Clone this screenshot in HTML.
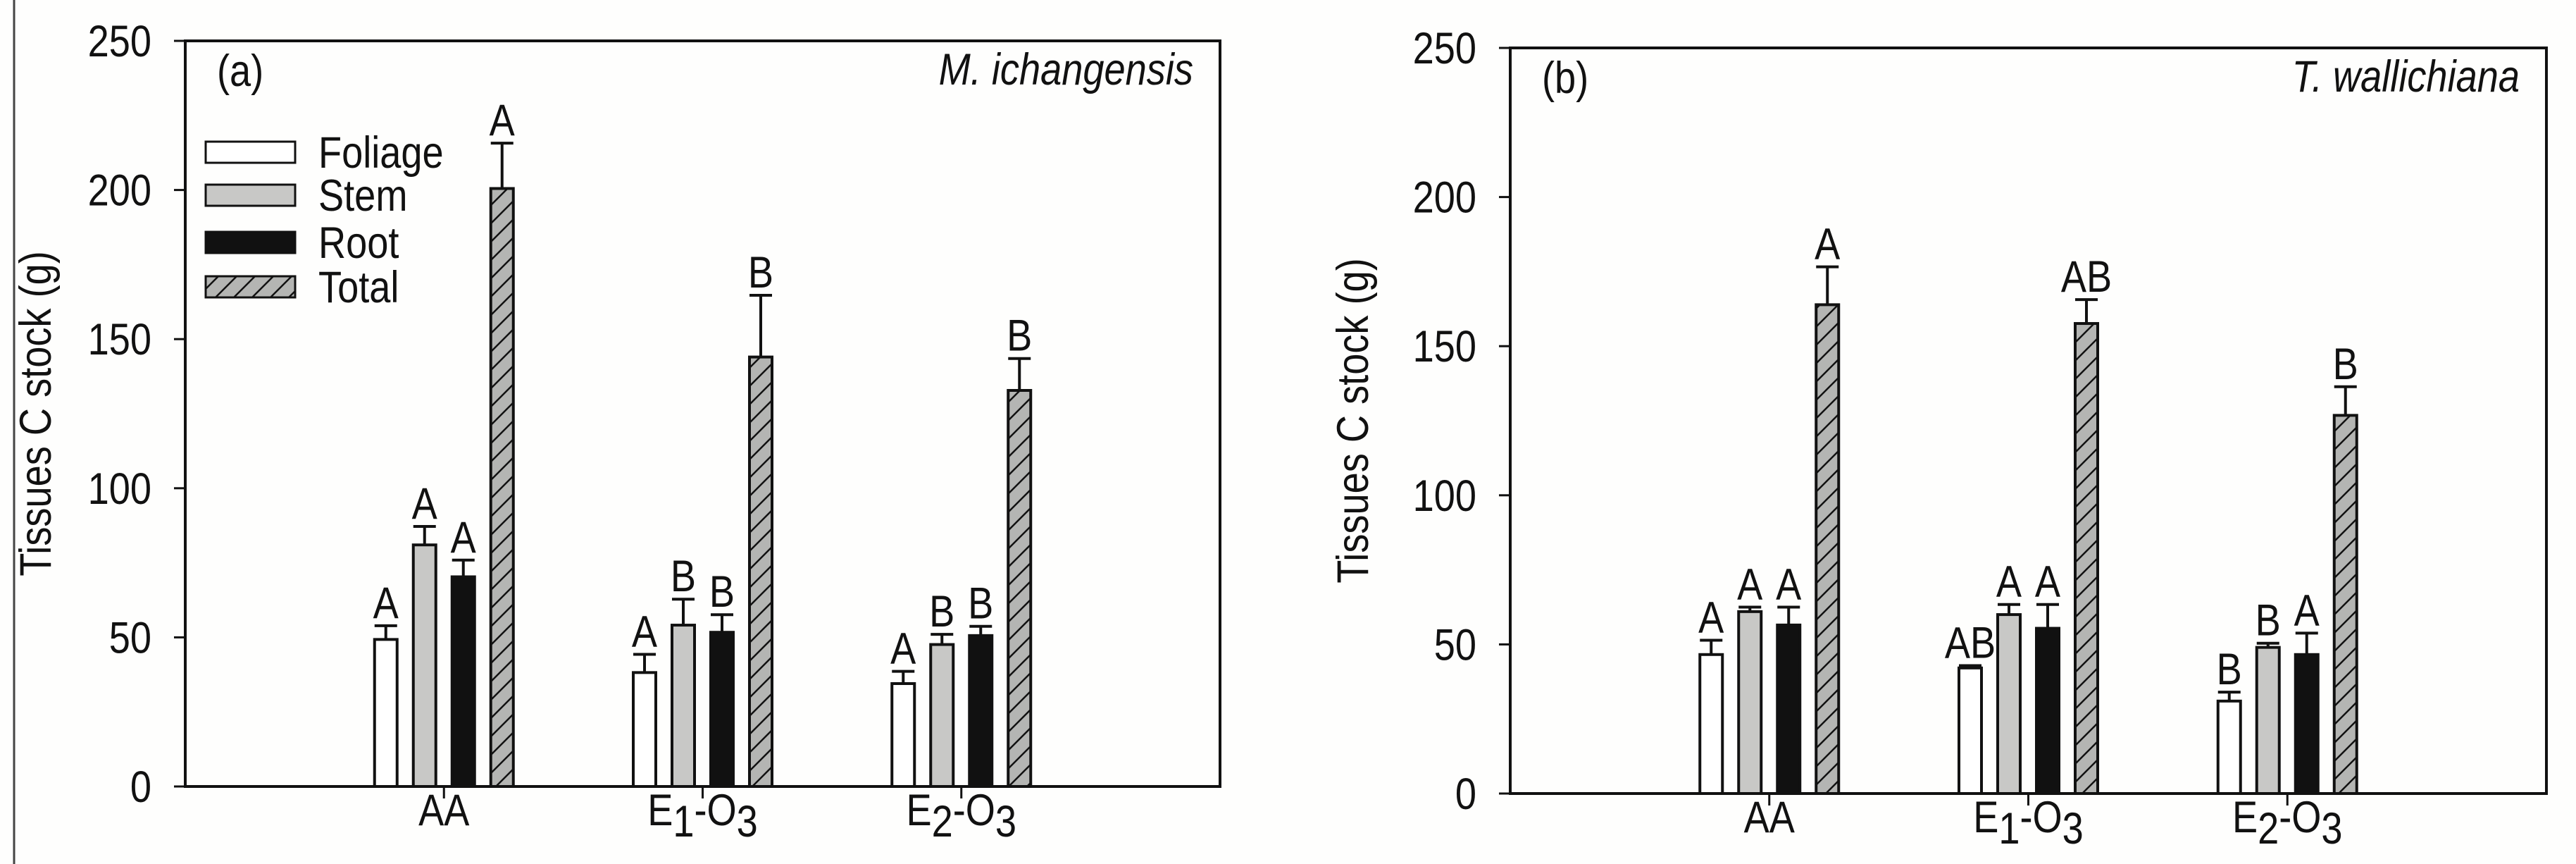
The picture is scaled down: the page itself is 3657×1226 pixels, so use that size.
<!DOCTYPE html>
<html><head><meta charset="utf-8"><style>
html,body{margin:0;padding:0;background:#fefefd;}
svg{display:block;}
text{font-family:"Liberation Sans",Arial,sans-serif;fill:#111;}
</style></head><body>
<svg id="chart" width="3657" height="1226" viewBox="0 0 3657 1226" xmlns="http://www.w3.org/2000/svg">
<defs>
<pattern id="hatch" patternUnits="userSpaceOnUse" width="26" height="26">
<rect width="26" height="26" fill="#b4b5b3"/>
<path d="M-2,28 L28,-2 M-15,15 L15,-15 M11,41 L41,11" stroke="#111" stroke-width="2.5"/>
</pattern>
</defs>
<line x1="20" y1="0" x2="20" y2="1226" stroke="#444" stroke-width="3"/>
</svg>
<script>
const categories = ["AA", "E1-O3", "E2-O3"];
const seriesNames = ["Foliage", "Stem", "Root", "Total"];
const yTicks = [0, 50, 100, 150, 200, 250];
// panel a: M. ichangensis
const aFoliage = [49.3, 38.2, 34.5];
const aStem = [81.0, 54.1, 47.6];
const aRoot = [70.3, 51.7, 50.6];
const aTotal = [200.5, 144.0, 132.8];
const aFoliageErr = [4.6, 6.1, 4.1];
const aStemErr = [6.2, 8.7, 3.4];
const aRootErr = [5.6, 5.9, 3.1];
const aTotalErr = [15.2, 20.7, 10.7];
const aFoliageLet = ["A", "A", "A"];
const aStemLet = ["A", "B", "B"];
const aRootLet = ["A", "B", "B"];
const aTotalLet = ["A", "B", "B"];
// panel b: T. wallichiana
const bFoliage = [46.6, 42.1, 31.0];
const bStem = [61.0, 60.0, 49.0];
const bRoot = [56.5, 55.4, 46.6];
const bTotal = [163.9, 157.6, 126.8];
const bFoliageErr = [4.8, 0.8, 3.0];
const bStemErr = [1.5, 3.4, 1.4];
const bRootErr = [6.0, 8.0, 7.2];
const bTotalErr = [12.7, 8.0, 9.6];
const bFoliageLet = ["A", "AB", "B"];
const bStemLet = ["A", "A", "B"];
const bRootLet = ["A", "A", "A"];
const bTotalLet = ["A", "AB", "B"];

const NS = "http://www.w3.org/2000/svg";
const svg = document.getElementById("chart");
function mk(tag, attrs, parent) {
  const e = document.createElementNS(NS, tag);
  for (const k in attrs) e.setAttribute(k, attrs[k]);
  (parent || svg).appendChild(e);
  return e;
}
const SX = 0.86;
function txt(x, y, anchor, parent, extra, rot) {
  const a = Object.assign({x: 0, y: 0, "text-anchor": anchor, "font-size": fs,
    transform: `translate(${x},${y})${rot ? ' rotate(-90)' : ''} scale(${SX},1)`}, extra || {});
  return mk("text", a, parent);
}
const fills = ["#ffffff", "#c8c8c6", "#111111", "url(#hatch)"];
const fs = 63;

function panel(p) {
  const g = mk("g", {});
  
  
  const L = p.left, R = p.right, T = p.top, B = p.bottom;
  const y = v => B - v / 250 * (B - T);
  const x = i => L + (R - L) * (0.25 + 0.25 * i);
  const vals = [p.foliage, p.stem, p.root, p.total];
  const errs = [p.foliageErr, p.stemErr, p.rootErr, p.totalErr];
  const lets = [p.foliageLet, p.stemLet, p.rootLet, p.totalLet];
  const bw = 32, step = 55;
  categories.forEach((c, i) => {
    for (let s = 0; s < 4; s++) {
      const cx = x(i) + (s - 1.5) * step;
      const v = vals[s][i], e = errs[s][i];
      const r = mk("rect", {x: cx - bw / 2, y: y(v), width: bw, height: B - y(v), fill: fills[s], stroke: "#111", "stroke-width": 4}, g);
      
      
      const el = mk("path", {d: `M${cx},${y(v)} L${cx},${y(v + e)} M${cx - bw / 2},${y(v + e)} L${cx + bw / 2},${y(v + e)}`, stroke: "#111", "stroke-width": 4, fill: "none"}, g);
      
      
      const t = txt(cx, y(v + e) - 11, "middle", g);
      t.textContent = lets[s][i];
      
      
    }
    const tk = mk("line", {x1: x(i), y1: B, x2: x(i), y2: B + 17, stroke: "#111", "stroke-width": 3}, g);
    
    
    const lab = txt(x(i), B + 55, "middle", g);
    
    
    if (c === "AA") lab.textContent = "AA";
    else {
      const n = c[1];
      lab.innerHTML = `E<tspan dy="16">${n}</tspan><tspan dy="-16">-O</tspan><tspan dy="16">3</tspan>`;
    }
  });
  const fr = mk("rect", {x: L, y: T, width: R - L, height: B - T, fill: "none", stroke: "#111", "stroke-width": 4}, g);
  
  
  yTicks.forEach(v => {
    const tl = mk("line", {x1: L - 16, y1: y(v), x2: L, y2: y(v), stroke: "#111", "stroke-width": 3}, g);
    
    
    const tt = txt(L - 48, y(v) + 22, "end", g);
    tt.textContent = v;
    
    
  });
  const yt = txt(p.titleX, (T + B) / 2, "middle", g, {}, true);
  yt.textContent = "Tissues C stock (g)";
  
  
  const pl = txt(L + 45, T + 64, "start", g);
  pl.textContent = p.label;
  
  
  const sp = txt(R - 38, T + 62, "end", g, {"font-style": "italic"});
  sp.textContent = p.species;
  
  
  if (p.legend) {
    const lg = mk("g", {}, g);
    
    
    const ys = [201, 262, 329, 392];
    seriesNames.forEach((n, s) => {
      const r = mk("rect", {x: 292, y: ys[s], width: 127, height: 30, fill: fills[s], stroke: "#111", "stroke-width": 3}, lg);
      
      
      const t = txt(452, ys[s] + 37, "start", lg);
      t.textContent = n;
      
      
    });
  }
}
panel({id: "a", left: 263, right: 1732, top: 58, bottom: 1116, titleX: 72, label: "(a)", species: "M. ichangensis", legend: true,
  foliage: aFoliage, stem: aStem, root: aRoot, total: aTotal,
  foliageErr: aFoliageErr, stemErr: aStemErr, rootErr: aRootErr, totalErr: aTotalErr,
  foliageLet: aFoliageLet, stemLet: aStemLet, rootLet: aRootLet, totalLet: aTotalLet});
panel({id: "b", left: 2144, right: 3615, top: 68, bottom: 1126, titleX: 1942, label: "(b)", species: "T. wallichiana", legend: false,
  foliage: bFoliage, stem: bStem, root: bRoot, total: bTotal,
  foliageErr: bFoliageErr, stemErr: bStemErr, rootErr: bRootErr, totalErr: bTotalErr,
  foliageLet: bFoliageLet, stemLet: bStemLet, rootLet: bRootLet, totalLet: bTotalLet});
</script>
</body></html>
